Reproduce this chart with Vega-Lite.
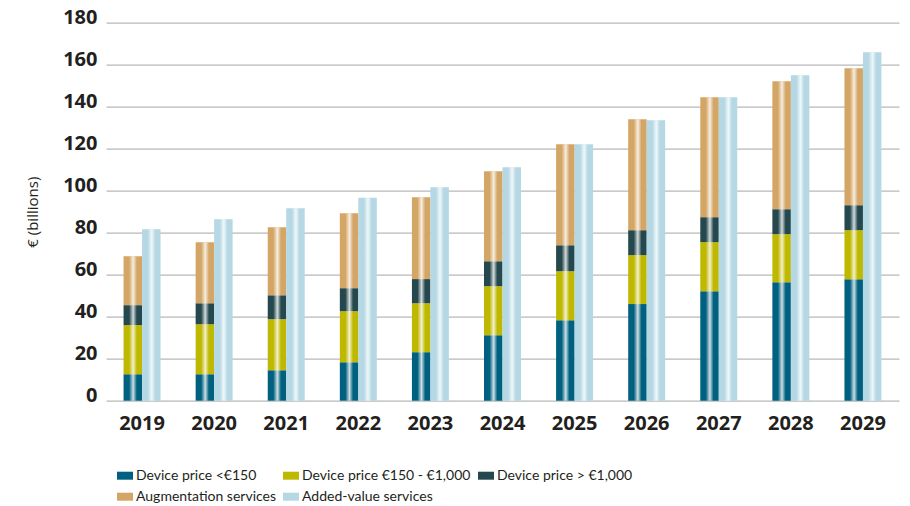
{
  "$schema": "https://vega.github.io/schema/vega-lite/v6.json",
  "autosize": {"type": "none"},
  "width": 793,
  "height": 378,
  "padding": {"left": 106, "top": 22.7, "right": 11, "bottom": 105.3},
  "background": "white",
  "config": {"view": {"stroke": null}},
  "data": {"values": [
    {"year": "2019", "group": "device", "series": "Device price <€150", "value": 12.6},
    {"year": "2019", "group": "device", "series": "Device price €150 - €1,000", "value": 23.4},
    {"year": "2019", "group": "device", "series": "Device price > €1,000", "value": 9.5},
    {"year": "2019", "group": "device", "series": "Augmentation services", "value": 23.3},
    {"year": "2019", "group": "added", "series": "Added-value services", "value": 81.7},
    {"year": "2020", "group": "device", "series": "Device price <€150", "value": 12.6},
    {"year": "2020", "group": "device", "series": "Device price €150 - €1,000", "value": 23.8},
    {"year": "2020", "group": "device", "series": "Device price > €1,000", "value": 10.0},
    {"year": "2020", "group": "device", "series": "Augmentation services", "value": 29.1},
    {"year": "2020", "group": "added", "series": "Added-value services", "value": 86.4},
    {"year": "2021", "group": "device", "series": "Device price <€150", "value": 14.5},
    {"year": "2021", "group": "device", "series": "Device price €150 - €1,000", "value": 24.3},
    {"year": "2021", "group": "device", "series": "Device price > €1,000", "value": 11.4},
    {"year": "2021", "group": "device", "series": "Augmentation services", "value": 32.4},
    {"year": "2021", "group": "added", "series": "Added-value services", "value": 91.7},
    {"year": "2022", "group": "device", "series": "Device price <€150", "value": 18.3},
    {"year": "2022", "group": "device", "series": "Device price €150 - €1,000", "value": 24.3},
    {"year": "2022", "group": "device", "series": "Device price > €1,000", "value": 11.0},
    {"year": "2022", "group": "device", "series": "Augmentation services", "value": 35.7},
    {"year": "2022", "group": "added", "series": "Added-value services", "value": 96.6},
    {"year": "2023", "group": "device", "series": "Device price <€150", "value": 23.1},
    {"year": "2023", "group": "device", "series": "Device price €150 - €1,000", "value": 23.3},
    {"year": "2023", "group": "device", "series": "Device price > €1,000", "value": 11.5},
    {"year": "2023", "group": "device", "series": "Augmentation services", "value": 39.0},
    {"year": "2023", "group": "added", "series": "Added-value services", "value": 101.7},
    {"year": "2024", "group": "device", "series": "Device price <€150", "value": 31.2},
    {"year": "2024", "group": "device", "series": "Device price €150 - €1,000", "value": 23.3},
    {"year": "2024", "group": "device", "series": "Device price > €1,000", "value": 11.9},
    {"year": "2024", "group": "device", "series": "Augmentation services", "value": 42.9},
    {"year": "2024", "group": "added", "series": "Added-value services", "value": 111.2},
    {"year": "2025", "group": "device", "series": "Device price <€150", "value": 38.3},
    {"year": "2025", "group": "device", "series": "Device price €150 - €1,000", "value": 23.4},
    {"year": "2025", "group": "device", "series": "Device price > €1,000", "value": 12.3},
    {"year": "2025", "group": "device", "series": "Augmentation services", "value": 48.1},
    {"year": "2025", "group": "added", "series": "Added-value services", "value": 122.1},
    {"year": "2026", "group": "device", "series": "Device price <€150", "value": 46.0},
    {"year": "2026", "group": "device", "series": "Device price €150 - €1,000", "value": 23.3},
    {"year": "2026", "group": "device", "series": "Device price > €1,000", "value": 11.9},
    {"year": "2026", "group": "device", "series": "Augmentation services", "value": 52.8},
    {"year": "2026", "group": "added", "series": "Added-value services", "value": 133.6},
    {"year": "2027", "group": "device", "series": "Device price <€150", "value": 52.1},
    {"year": "2027", "group": "device", "series": "Device price €150 - €1,000", "value": 23.4},
    {"year": "2027", "group": "device", "series": "Device price > €1,000", "value": 11.9},
    {"year": "2027", "group": "device", "series": "Augmentation services", "value": 57.1},
    {"year": "2027", "group": "added", "series": "Added-value services", "value": 144.5},
    {"year": "2028", "group": "device", "series": "Device price <€150", "value": 56.4},
    {"year": "2028", "group": "device", "series": "Device price €150 - €1,000", "value": 22.9},
    {"year": "2028", "group": "device", "series": "Device price > €1,000", "value": 11.9},
    {"year": "2028", "group": "device", "series": "Augmentation services", "value": 60.9},
    {"year": "2028", "group": "added", "series": "Added-value services", "value": 155.0},
    {"year": "2029", "group": "device", "series": "Device price <€150", "value": 57.8},
    {"year": "2029", "group": "device", "series": "Device price €150 - €1,000", "value": 23.4},
    {"year": "2029", "group": "device", "series": "Device price > €1,000", "value": 11.9},
    {"year": "2029", "group": "device", "series": "Augmentation services", "value": 65.2},
    {"year": "2029", "group": "added", "series": "Added-value services", "value": 165.9}
  ]},
  "transform": [
    {"calculate": "indexof(['Device price <€150', 'Device price €150 - €1,000', 'Device price > €1,000', 'Augmentation services', 'Added-value services'], datum.series)", "as": "stackOrder"}
  ],
  "encoding": {
    "x": {
      "field": "year", "type": "nominal",
      "scale": {"paddingInner": 0.487, "paddingOuter": 0.2435},
      "axis": {
        "title": null, "labelAngle": 0, "domain": false, "ticks": false,
        "labelPadding": 13, "labelFont": "Open Sans", "labelFontWeight": "bold",
        "labelFontSize": 20, "labelColor": "#231f20"
      }
    },
    "xOffset": {"field": "group", "type": "nominal", "sort": ["device", "added"], "scale": {"paddingInner": 0, "paddingOuter": 0}}
  },
  "layer": [
    {
      "mark": {"type": "bar"},
      "encoding": {
        "y": {
          "field": "value", "type": "quantitative", "stack": "zero",
          "scale": {"domain": [0, 180], "nice": false},
          "axis": {
            "title": "€ (billions)", "values": [0, 20, 40, 60, 80, 100, 120, 140, 160, 180],
            "domain": false, "ticks": false, "grid": true, "gridColor": "#b8b8b8", "gridWidth": 1.2,
            "labelPadding": 9, "labelOffset": -5, "labelFont": "Open Sans", "labelFontWeight": "bold",
            "labelFontSize": 20, "labelColor": "#231f20",
            "titleFont": "Open Sans", "titleFontWeight": "normal", "titleFontSize": 15, "titleColor": "#231f20",
            "titleAngle": -90, "titleX": -74, "titleY": 189, "titleAlign": "center", "titleBaseline": "middle"
          }
        },
        "color": {
          "field": "series", "type": "nominal",
          "sort": ["Device price <€150", "Device price €150 - €1,000", "Device price > €1,000", "Augmentation services", "Added-value services"],
          "scale": {
            "domain": ["Device price <€150", "Device price €150 - €1,000", "Device price > €1,000", "Augmentation services", "Added-value services"],
            "range": ["#00607f", "#bfb800", "#24484d", "#d4a666", "#b5d8e4"]
          },
          "legend": {
            "title": null, "orient": "none", "legendX": 11, "legendY": 445,
            "direction": "horizontal", "columns": 3, "gridAlign": "each",
            "columnPadding": 7, "rowPadding": 6,
            "symbolType": "M-1,-0.5H1V0.5H-1Z", "symbolSize": 256, "symbolStrokeWidth": 0,
            "labelOffset": 3, "labelFont": "Lato", "labelFontSize": 14,
            "labelColor": "#231f20", "labelLimit": 300
          }
        },
        "order": {"field": "stackOrder", "type": "quantitative", "sort": "ascending"}
      }
    },
    {
      "mark": {
        "type": "bar",
        "color": {
          "gradient": "linear", "x1": 0, "x2": 1, "y1": 0, "y2": 0,
          "stops": [
            {"offset": 0, "color": "rgba(255,255,255,0)"},
            {"offset": 0.3, "color": "rgba(255,255,255,0)"},
            {"offset": 0.52, "color": "rgba(255,255,255,0.8)"},
            {"offset": 0.72, "color": "rgba(255,255,255,0)"},
            {"offset": 1, "color": "rgba(255,255,255,0)"}
          ]
        }
      },
      "encoding": {
        "y": {"aggregate": "sum", "field": "value", "type": "quantitative"}
      }
    }
  ]
}
